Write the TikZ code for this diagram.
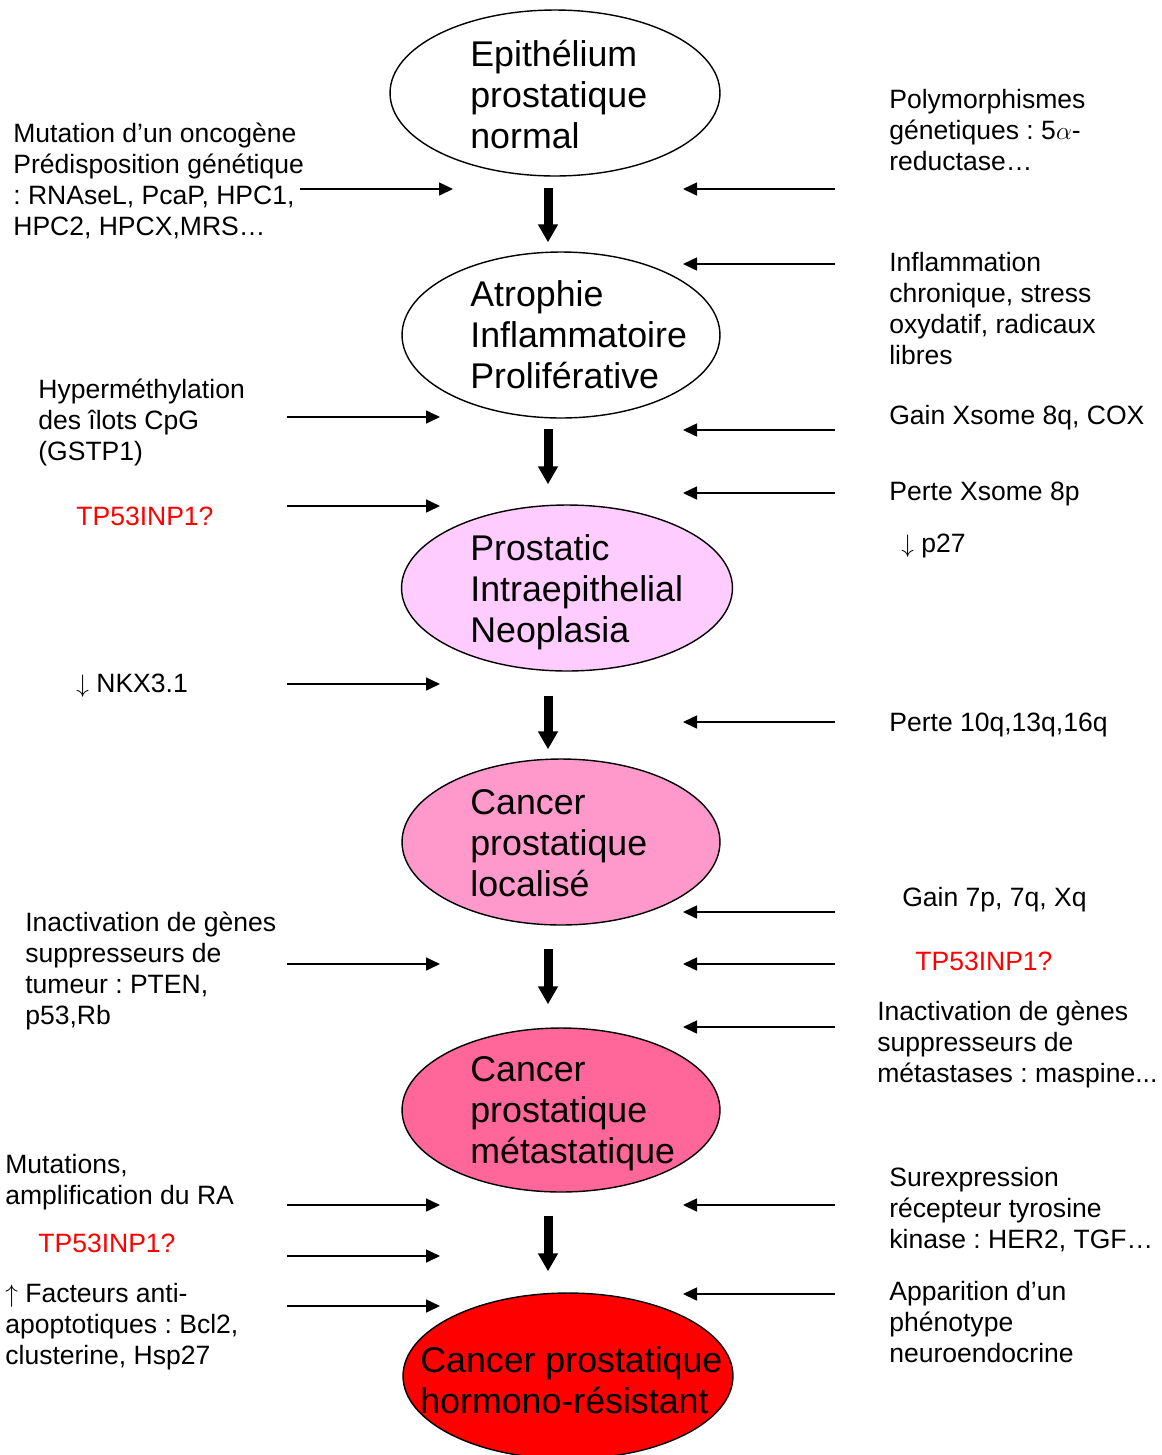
\documentclass[tikz,border=0pt]{standalone}
\usepackage{fontspec}
\setmainfont{Liberation Sans}
\usepackage{xcolor}
\usepackage{tikz}
\usetikzlibrary{shapes.geometric,arrows.meta}
\definecolor{pinpink}{RGB}{255,204,255}
\definecolor{locpink}{RGB}{255,153,204}
\definecolor{metapink}{RGB}{255,102,153}
\definecolor{hrred}{RGB}{255,0,0}
\frenchspacing
\begin{document}
\begin{tikzpicture}[x=0.02cm,y=-0.02cm,
    stage/.style={ellipse, draw=black, line width=0.8pt, inner sep=0pt},
    stagetxt/.style={anchor=base west, align=left, inner sep=0pt, font=\fontsize{20.35}{23.3}\selectfont},
    note/.style={anchor=base west, align=left, inner sep=0pt, font=\fontsize{15.1}{17.6}\selectfont},
    flow/.style={line width=0.18cm, -{Triangle[length=0.36cm,width=0.38cm]}},
    side/.style={line width=0.9pt, -{Triangle[length=0.28cm,width=0.26cm]}}]
        \useasboundingbox (0,0) rectangle (1162,1455);
        \node[stage, minimum width=6.6cm, minimum height=3.32cm] (normal) at (555,93) {};
        \node[stage, minimum width=6.36cm, minimum height=3.32cm] (atrophie) at (561,335) {};
        \node[stage, fill=pinpink, minimum width=6.62cm, minimum height=3.32cm] (pin) at (567,588) {};
        \node[stage, fill=locpink, minimum width=6.36cm, minimum height=3.32cm] (localise) at (561,842) {};
        \node[stage, fill=metapink, minimum width=6.36cm, minimum height=3.28cm] (meta) at (561,1110) {};
        \node[stage, fill=hrred, minimum width=6.6cm, minimum height=3.32cm] (hormono) at (568,1376) {};
        \node[stagetxt] (t-normal) at (470,148) {Epithélium\\prostatique\\normal};
        \node[stagetxt] (t-atrophie) at (470,388) {Atrophie\\Inflammatoire\\Proliférative};
        \node[stagetxt] (t-pin) at (470,642) {Prostatic\\Intraepithelial\\Neoplasia};
        \node[stagetxt] (t-localise) at (470,896) {Cancer\\prostatique\\localisé};
        \node[stagetxt] (t-meta) at (470,1163) {Cancer\\prostatique\\métastatique};
        \node[stagetxt] (t-hormono) at (420,1413) {Cancer prostatique\\hormono-résistant};
        \coordinate (axis) at (548,0);
        \foreach \from/\to/\a/\b in {normal/atrophie/0.22/0.18, atrophie/pin/0.2/0.4, pin/localise/0.48/0.18, localise/meta/0.46/0.46, meta/hormono/0.46/0.42}
            \draw[flow, shorten <=\a cm, shorten >=\b cm] (\from.south -| axis) -- (\to.north -| axis);
        \node[note] (mut) at (13,235) {Mutation d’un oncogène\\Prédisposition génétique\\: RNAseL, PcaP, HPC1,\\HPC2, HPCX,MRS…};
        \node[note] (hyper) at (38,460) {Hyperméthylation\\des îlots CpG\\(GSTP1)};
        \node[note, text=hrred] (tp-a) at (76,525) {TP53INP1?};
        \node[note] (nkx) at (76,692) {$\downarrow$ NKX3.1};
        \node[note] (inact) at (25,1024) {Inactivation de gènes\\suppresseurs de\\tumeur : PTEN,\\p53,Rb};
        \node[note] (ra) at (5,1204) {Mutations,\\amplification du RA};
        \node[note, text=hrred] (tp-b) at (38,1252) {TP53INP1?};
        \node[note] (apop) at (5,1364) {$\uparrow$ Facteurs anti-\\apoptotiques : Bcl2,\\clusterine, Hsp27};
        \node[note] (poly) at (889,170) {Polymorphismes\\génetiques : 5$\alpha$-\\reductase…};
        \node[note] (infl) at (889,364) {Inflammation\\chronique, stress\\oxydatif, radicaux\\libres};
        \node[note] (gain8) at (889,424) {Gain Xsome 8q, COX};
        \node[note] (perte8) at (889,500) {Perte Xsome 8p};
        \node[note] (p27) at (901,552) {$\downarrow$ p27};
        \node[note] (perte10) at (889,731) {Perte 10q,13q,16q};
        \node[note] (gain7) at (902,906) {Gain 7p, 7q, Xq};
        \node[note, text=hrred] (tp-c) at (915,970) {TP53INP1?};
        \node[note] (masp) at (877,1082) {Inactivation de gènes\\suppresseurs de\\métastases : maspine...};
        \node[note] (her2) at (889,1248) {Surexpression\\récepteur tyrosine\\kinase : HER2, TGF…};
        \node[note] (neuro) at (889,1362) {Apparition d’un\\phénotype\\neuroendocrine};
        \foreach \xa/\xb/\y [count=\i] in {300/453/189, 287/440/417, 287/440/506, 287/440/684, 287/440/964, 287/440/1205, 287/440/1256, 287/440/1306} {
            \coordinate (lsrc\i) at (\xa,\y);
            \coordinate (ldst\i) at (\xb,\y);
            \draw[side] (lsrc\i) -- (ldst\i);
        }
        \foreach \y [count=\i] in {189,264,430,493,722,912,964,1027,1205,1294} {
            \coordinate (rsrc\i) at (835,\y);
            \coordinate (rdst\i) at (683,\y);
            \draw[side] (rsrc\i) -- (rdst\i);
        }
\end{tikzpicture}
\end{document}
